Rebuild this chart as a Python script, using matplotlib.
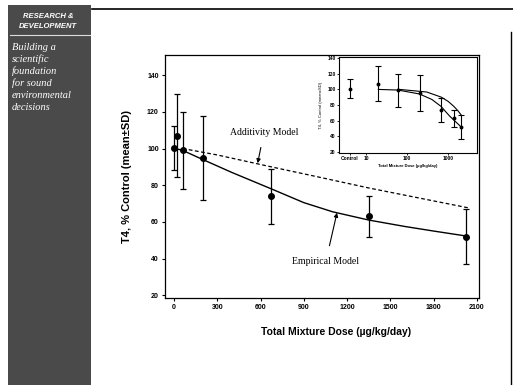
import numpy as np
import matplotlib
matplotlib.use('Agg')
import matplotlib.pyplot as plt
from matplotlib.lines import Line2D
from matplotlib.patches import Rectangle

# measured points (dose, mean, sd)
dose = [0, 20, 60, 200, 675, 1350, 2025]
t4_mean = [100.5, 107, 99, 95, 74, 63, 52]
t4_sd = [12, 22.5, 21, 23, 15, 11, 15]

# model curves
emp_dose = [0, 20, 60, 200, 400, 675, 900, 1100, 1350, 1600, 1800, 2025]
emp_val = [100, 99.8, 99, 94, 87, 78, 70.5, 65.5, 61, 57.5, 55, 52.3]
add_dose = [60, 300, 675, 1000, 1350, 1700, 2050]
add_val = [100, 96.5, 90, 84.5, 78.5, 73, 67.5]

# inset (log axis, control plotted at a fixed spot)
ctrl_pos = 4
inset_ticks = [4, 10, 100, 1000]
inset_ticklabels = ['Control', '10', '100', '1000']

sidebar_head = ['RESEARCH &', 'DEVELOPMENT']
sidebar_lines = ['Building a', 'scientific', 'foundation', 'for sound',
                 'environmental', 'decisions']

W, H = 513, 385
fig = plt.figure(figsize=(W / 100, H / 100), dpi=100)

def fx(px):
    return px / W

def fy(py):
    return 1 - py / H

# sidebar
fig.patches.append(Rectangle((fx(8), 0), fx(91) - fx(8), fy(5), transform=fig.transFigure,
                             facecolor='#4a4a4a', edgecolor='none', zorder=0))
for i, s in enumerate(sidebar_head):
    fig.text(fx(48), fy(16 + 11 * i), s, color='white', fontsize=5.5, fontweight='bold',
             fontstyle='italic', family='Liberation Sans', ha='center', va='center')
fig.add_artist(Line2D([fx(10), fx(90)], [fy(35), fy(35)], color='#dddddd', lw=0.8))
for i, s in enumerate(sidebar_lines):
    fig.text(fx(12), fy(47 + 12 * i), s, color='white', fontsize=7.5, fontstyle='italic',
             family='Liberation Serif', ha='left', va='center')

# frame lines
fig.add_artist(Line2D([fx(92), fx(513)], [fy(9), fy(9)], color='black', lw=1.2))
fig.add_artist(Line2D([fx(511), fx(511)], [fy(32), fy(385)], color='black', lw=1.0))

# main plot
ax = fig.add_axes([fx(165), fy(298), fx(479) - fx(165), fy(55) - fy(298)])
ax.errorbar(dose, t4_mean, yerr=t4_sd, fmt='o', color='black', ms=4,
            capsize=2.5, elinewidth=0.9, capthick=0.9)
ax.plot(emp_dose, emp_val, '-', color='black', lw=1.0)
ax.plot(add_dose, add_val, '--', color='black', lw=0.9, dashes=(3, 2))
ax.set_xlim(-62, 2114)
ax.set_ylim(18.5, 151)
ax.set_xticks(np.arange(0, 2101, 300))
ax.set_yticks(np.arange(20, 141, 20))
ax.tick_params(direction='out', length=2.5, width=0.8, labelsize=5, pad=2)
for lab in ax.get_xticklabels() + ax.get_yticklabels():
    lab.set_fontweight('bold')
    lab.set_family('Liberation Sans')
for sp in ax.spines.values():
    sp.set_linewidth(0.9)
ax.set_ylabel('T4, % Control (mean±SD)', fontsize=8, fontweight='bold',
              family='Liberation Sans', labelpad=11)
fig.text(fx(336), fy(332), 'Total Mixture Dose (µg/kg/day)', fontsize=7.5,
         fontweight='bold', family='Liberation Sans', ha='center', va='center')

ax.annotate('Additivity Model', xy=(580, 92), xytext=(624, 109), fontsize=7,
            family='Liberation Serif', ha='center', va='center',
            arrowprops=dict(arrowstyle='-|>', color='black', lw=0.8,
                            shrinkA=6, shrinkB=0, mutation_scale=6))
ax.annotate('Empirical Model', xy=(1130, 65), xytext=(1053, 38.6), fontsize=7,
            family='Liberation Serif', ha='center', va='center',
            arrowprops=dict(arrowstyle='-|>', color='black', lw=0.8,
                            shrinkA=6, shrinkB=0, mutation_scale=6))

# inset
ins = fig.add_axes([fx(339), fy(153), fx(477) - fx(339), fy(57) - fy(153)])
ins_x = [ctrl_pos] + dose[1:]
ins.errorbar(ins_x, t4_mean, yerr=t4_sd, fmt='o', color='black', ms=1.8,
             capsize=2, elinewidth=0.8, capthick=0.8)
ins.plot(emp_dose[1:], emp_val[1:], '-', color='black', lw=0.8)
ins.plot(add_dose, add_val, '-', color='black', lw=0.8)
ins.set_xscale('log')
ins.set_xlim(2.2, 5000)
ins.set_ylim(19, 141)
ins.set_xticks(inset_ticks)
ins.set_xticklabels(inset_ticklabels)
ins.xaxis.set_minor_locator(matplotlib.ticker.NullLocator())
ins.set_yticks(np.arange(20, 141, 20))
ins.tick_params(direction='out', length=1.5, width=0.6, labelsize=3.5, pad=1)
for lab in ins.get_xticklabels() + ins.get_yticklabels():
    lab.set_fontweight('bold')
    lab.set_family('Liberation Sans')
for sp in ins.spines.values():
    sp.set_linewidth(0.8)
ins.set_ylabel('T4, % Control (mean±SD)', fontsize=3, family='Liberation Sans', labelpad=3)
ins.set_xlabel('Total Mixture Dose (µg/kg/day)', fontsize=3, fontweight='bold',
               family='Liberation Sans', labelpad=2)

fig.savefig('out.png', dpi=100)
